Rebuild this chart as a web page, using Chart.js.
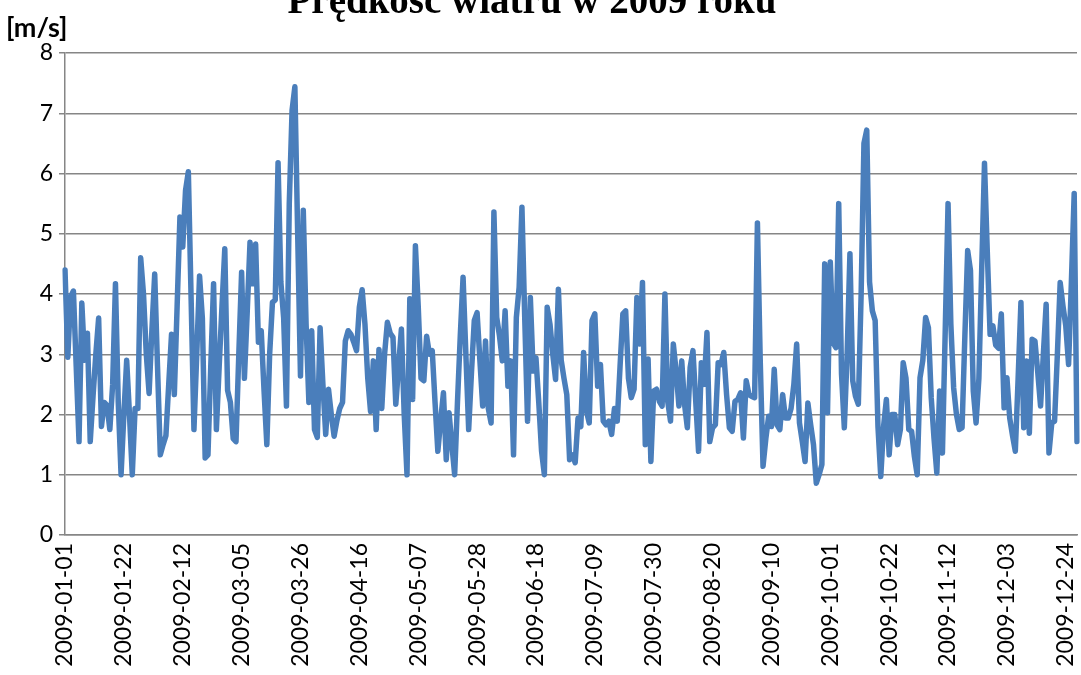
<!DOCTYPE html>
<html>
<head>
<meta charset="utf-8">
<title>Prędkość wiatru w 2009 roku</title>
<script src="https://cdn.jsdelivr.net/npm/chart.js@4/dist/chart.umd.min.js"></script>
<style>
  body { margin: 0; background: #fff; }
  #wrap { width: 1081px; height: 675px; position: relative; }
</style>
</head>
<body>
<div id="wrap"><canvas id="chart"></canvas></div>
<script>
// Tytuł i opis osi
const chartTitle = 'Prędkość wiatru w 2009 roku';
const unitLabel = '[m/s]';

// Pierwszy dzień serii i etykiety osi X (co 21 dni)
const startDate = '2009-01-01';
const tickLabels = ['2009-01-01', '2009-01-22', '2009-02-12', '2009-03-05', '2009-03-26', '2009-04-16',
    '2009-05-07', '2009-05-28', '2009-06-18', '2009-07-09', '2009-07-30', '2009-08-20',
    '2009-09-10', '2009-10-01', '2009-10-22', '2009-11-12', '2009-12-03', '2009-12-24'];

// Średnia dobowa prędkość wiatru [m/s], miesiąc po miesiącu
const jan = [4.4, 2.95, 3.95, 4.05, 2.8, 1.55, 3.85, 2.9, 3.35, 1.55, 2.3, 3.0, 3.6, 1.8, 2.2, 2.15,
    1.75, 2.5, 4.17, 2.2, 1.0, 2.0, 2.9, 2.0, 1.0, 2.1, 2.1, 4.6, 4.0, 3.0, 2.35];
const feb = [3.4, 4.33, 2.8, 1.33, 1.5, 1.65, 2.5, 3.33, 2.33, 3.8, 5.28, 4.78, 5.72, 6.03, 3.9, 1.75,
    3.0, 4.3, 3.6, 1.28, 1.33, 2.8, 4.17, 1.75, 2.8, 3.8, 4.75, 2.4];
const mar = [2.2, 1.6, 1.55, 3.0, 4.36, 2.6, 3.7, 4.86, 4.17, 4.83, 3.2, 3.39, 2.4, 1.5, 3.0, 3.86,
    3.9, 6.18, 4.2, 3.6, 2.14, 5.5, 7.05, 7.44, 5.0, 2.64, 5.39, 3.5, 2.2, 3.39, 1.75];
const apr = [1.62, 3.44, 2.5, 1.67, 2.42, 2.0, 1.64, 1.9, 2.1, 2.2, 3.22, 3.39, 3.33, 3.2, 3.06, 3.78,
    4.07, 3.5, 2.6, 2.05, 2.89, 1.75, 3.08, 2.1, 3.0, 3.53, 3.35, 3.28, 2.17, 2.8];
const may = [3.42, 2.0, 1.0, 3.92, 2.25, 4.8, 3.8, 2.6, 2.56, 3.3, 3.0, 3.06, 2.2, 1.39, 1.9, 2.36,
    1.25, 2.03, 1.5, 1.0, 2.2, 3.3, 4.28, 3.0, 1.75, 2.7, 3.56, 3.69, 2.9, 2.14, 3.22];
const jun = [2.1, 1.86, 5.36, 3.61, 3.3, 2.89, 3.72, 2.47, 2.89, 1.33, 3.61, 4.11, 5.44, 3.6, 1.89, 3.94,
    2.72, 2.94, 2.2, 1.39, 1.0, 3.78, 3.5, 3.0, 2.58, 4.08, 2.9, 2.6, 2.33, 1.25];
const jul = [1.33, 1.2, 1.94, 1.8, 3.03, 2.06, 1.86, 3.56, 3.67, 2.47, 2.83, 1.89, 1.83, 1.89, 1.67, 2.1,
    1.89, 2.8, 3.67, 3.72, 2.6, 2.28, 2.42, 3.94, 3.17, 4.19, 1.5, 2.92, 1.22, 2.39, 2.42];
const aug = [2.22, 2.14, 4.0, 2.22, 1.89, 3.17, 2.72, 2.14, 2.89, 2.17, 1.78, 2.78, 3.06, 2.22, 1.39, 2.86,
    2.5, 3.36, 1.55, 1.78, 1.83, 2.86, 2.83, 3.03, 2.33, 1.78, 1.72, 2.22, 2.25, 2.36, 1.61];
const sep = [2.56, 2.33, 2.3, 2.28, 5.18, 2.9, 1.14, 1.6, 1.97, 1.8, 2.75, 1.83, 1.75, 2.33, 1.94, 1.94,
    2.1, 2.5, 3.17, 1.86, 1.55, 1.22, 2.19, 1.83, 1.5, 0.86, 1.0, 1.17, 4.5, 2.03];
const oct = [4.53, 3.19, 3.11, 5.5, 2.67, 1.78, 3.0, 4.67, 2.56, 2.3, 2.17, 4.0, 6.5, 6.72, 4.2, 3.72,
    3.56, 1.8, 0.97, 1.8, 2.25, 1.33, 2.0, 2.0, 1.5, 1.75, 2.86, 2.6, 1.75, 1.72, 1.3];
const nov = [1.0, 2.61, 2.9, 3.61, 3.44, 2.28, 1.6, 1.03, 2.39, 1.36, 3.4, 5.5, 3.5, 2.44, 2.0, 1.75,
    1.78, 3.3, 4.72, 4.39, 2.39, 1.86, 2.6, 4.4, 6.17, 4.7, 3.33, 3.47, 3.15, 3.1];
const dec = [3.67, 2.11, 2.61, 1.94, 1.65, 1.39, 2.6, 3.86, 1.78, 2.89, 1.69, 3.25, 3.22, 2.7, 2.14, 3.0,
    3.83, 1.36, 1.86, 1.89, 3.0, 4.19, 3.8, 3.47, 2.83, 4.2, 5.67, 1.55];

const speeds = [].concat(jan, feb, mar, apr, may, jun, jul, aug, sep, oct, nov, dec);

// Kolejne daty dla każdej wartości
const days = [];
const d0 = new Date(startDate + 'T00:00:00Z');
for (let i = 0; i < speeds.length; i++) {
    const d = new Date(d0.getTime() + i * 86400000);
    days.push(d.toISOString().slice(0, 10));
}

const gridColor = '#868686';
const lineColor = '#4a7ebb';

// Tytuł (przycięty u góry jak w oryginale) i jednostka osi Y
const textPlugin = {
    id: 'textPlugin',
    afterDraw(chart) {
        const ctx = chart.ctx;
        ctx.save();
        ctx.fillStyle = '#000';
        ctx.textBaseline = 'alphabetic';
        ctx.textAlign = 'center';
        ctx.font = 'bold 39px "Liberation Serif"';
        ctx.fillText(chartTitle, 532, 13);
        ctx.textAlign = 'left';
        ctx.font = 'bold 27px Lato';
        ctx.fillText(unitLabel, 6, 37);
        ctx.restore();
    }
};

new Chart(document.getElementById('chart').getContext('2d'), {
    type: 'line',
    data: {
        labels: days,
        datasets: [{
            label: chartTitle,
            data: speeds,
            borderColor: lineColor,
            borderWidth: 5.5,
            borderJoinStyle: 'round',
            borderCapStyle: 'round',
            pointRadius: 0,
            tension: 0,
            fill: false
        }]
    },
    options: {
        responsive: true,
        maintainAspectRatio: false,
        animation: false,
        layout: { padding: { top: 53, right: 4, left: 0, bottom: 0 } },
        plugins: {
            legend: { display: false },
            title: { display: false },
            tooltip: { enabled: false }
        },
        scales: {
            x: {
                type: 'category',
                offset: false,
                grid: { display: false, drawTicks: false },
                border: { color: gridColor, width: 1.5 },
                ticks: {
                    autoSkip: false,
                    minRotation: 90,
                    maxRotation: 90,
                    padding: 8,
                    color: '#000',
                    font: { family: 'Lato', size: 23 },
                    callback: function (value, index) {
                        const lab = this.getLabelForValue(value);
                        return tickLabels.includes(lab) ? lab : '';
                    }
                },
                afterFit: function (scale) {
                    scale.height = 140;
                    scale.paddingLeft = 0;
                    scale.paddingRight = 0;
                }
            },
            y: {
                min: 0,
                max: 8,
                ticks: {
                    stepSize: 1,
                    padding: 6,
                    color: '#000',
                    font: { family: 'Lato', size: 23 }
                },
                grid: { color: gridColor, lineWidth: 1.5, tickLength: 6 },
                border: { color: gridColor, width: 1.5 },
                afterFit: function (scale) { scale.width = 65; }
            }
        }
    },
    plugins: [textPlugin]
});
</script>
</body>
</html>
